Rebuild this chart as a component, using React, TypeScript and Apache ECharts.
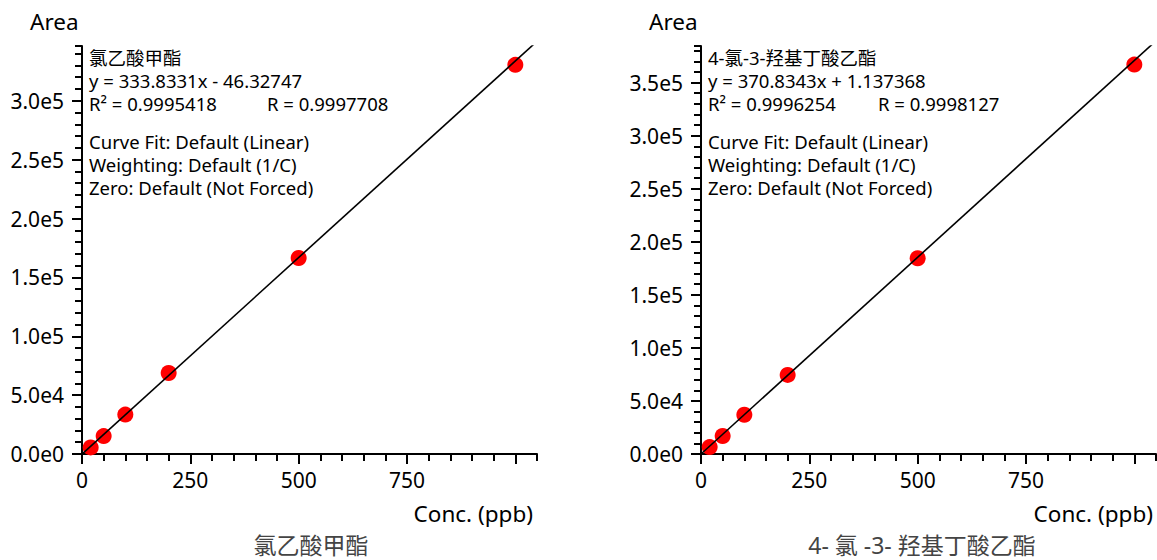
import React, { useEffect, useRef } from "react";
import * as echarts from "echarts";

// ---- data ----
const concentrations = [20, 50, 100, 200, 500, 1000];
const areasA = [5600, 15200, 33500, 68800, 166500, 330500];
const areasB = [6500, 17000, 37000, 74500, 184500, 367000];

const fitA = { slope: 333.8331, intercept: -46.32747 };
const fitB = { slope: 370.8343, intercept: 1.137368 };

const xMajorTicks = [0, 250, 500, 750, 1000];
const xLabelTicks = [0, 250, 500, 750];
const yMajorTicksA = [0, 50000, 100000, 150000, 200000, 250000, 300000];
const yMajorTicksB = [0, 50000, 100000, 150000, 200000, 250000, 300000, 350000];

const xMax = 1050;
const yMaxA = 346500;
const yMaxB = 384500;

const textA = [
  "氯乙酸甲酯",
  "y = 333.8331x - 46.32747",
  "R² = 0.9995418",
  "R = 0.9997708",
  "Curve Fit: Default (Linear)",
  "Weighting: Default (1/C)",
  "Zero: Default (Not Forced)",
];
const textB = [
  "4-氯-3-羟基丁酸乙酯",
  "y = 370.8343x + 1.137368",
  "R² = 0.9996254",
  "R = 0.9998127",
  "Curve Fit: Default (Linear)",
  "Weighting: Default (1/C)",
  "Zero: Default (Not Forced)",
];
const subtitleA = "氯乙酸甲酯";
const subtitleB = "4- 氯 -3- 羟基丁酸乙酯";
const yName = "Area";
const xName = "Conc. (ppb)";

const FONT = "'Noto Sans', 'Noto Sans CJK SC', sans-serif";

const fmtSci = (v: number) => {
  if (v === 0) return "0.0e0";
  const e = Math.floor(Math.log10(v) + 1e-9);
  const m = v / Math.pow(10, e);
  return m.toFixed(1) + "e" + e;
};

const lineStyle = { color: "#000", width: 2 };

function xAxes(gridIndex: number) {
  return [
    {
      type: "value",
      gridIndex,
      position: "bottom",
      min: 0,
      max: xMax,
      interval: 250,
      axisLine: { show: true, onZero: false, lineStyle },
      axisTick: { show: true, length: 10, lineStyle, customValues: xMajorTicks },
      axisLabel: {
        show: true,
        customValues: xLabelTicks,
        color: "#000",
        fontSize: 21,
        fontFamily: FONT,
        margin: 15,
      },
      splitLine: { show: false },
    },
    {
      type: "value",
      gridIndex,
      position: "bottom",
      min: 0,
      max: xMax,
      interval: 50,
      axisLine: { show: false, onZero: false },
      axisTick: { show: true, length: 7, lineStyle },
      axisLabel: { show: false },
      splitLine: { show: false },
    },
  ];
}

function yAxes(gridIndex: number, yMax: number, majors: number[]) {
  return [
    {
      type: "value",
      gridIndex,
      min: 0,
      max: yMax,
      interval: 50000,
      position: "left",
      axisLine: { show: true, onZero: false, lineStyle },
      axisTick: { show: true, length: 10, lineStyle, customValues: majors },
      axisLabel: {
        show: true,
        customValues: majors,
        formatter: (v: number) => fmtSci(v),
        color: "#000",
        fontSize: 21,
        fontFamily: FONT,
        margin: 18,
      },
      splitLine: { show: false },
    },
    {
      type: "value",
      gridIndex,
      min: 0,
      max: yMax,
      interval: 10000,
      position: "left",
      axisLine: { show: false, onZero: false },
      axisTick: { show: true, length: 7, lineStyle },
      axisLabel: { show: false },
      splitLine: { show: false },
    },
  ];
}

function textBlock(lines: string[], x: number, rX: number) {
  const ys = [57, 80, 103, 103, 141, 164, 187];
  return lines.map((t, i) => ({
    type: "text",
    x: i === 3 ? rX : x,
    y: ys[i],
    style: {
      text: t,
      fill: "#000",
      fontSize: 18.5,
      fontFamily: FONT,
      textAlign: "left",
      textVerticalAlign: "middle",
    },
  }));
}

function label(text: string, x: number, y: number, size: number, align: string, color = "#000") {
  return {
    type: "text",
    x,
    y,
    style: {
      text,
      fill: color,
      fontSize: size,
      fontFamily: FONT,
      textAlign: align,
      textVerticalAlign: "middle",
    },
  };
}

export default function App() {
  const ref = useRef<HTMLDivElement>(null);
  useEffect(() => {
    if (!ref.current) return;
    const chart = echarts.init(ref.current, undefined, { renderer: "svg" });
    const scatterA = concentrations.map((c, i) => [c, areasA[i]]);
    const scatterB = concentrations.map((c, i) => [c, areasB[i]]);
    const lineA = [
      [0, fitA.intercept],
      [xMax, fitA.slope * xMax + fitA.intercept],
    ];
    const lineB = [
      [0, fitB.intercept],
      [xMax, fitB.slope * xMax + fitB.intercept],
    ];
    chart.setOption({
      animation: false,
      backgroundColor: "#fff",
      grid: [
        { left: 82, top: 46, width: 455, height: 408 },
        { left: 701, top: 46, width: 455, height: 408 },
      ],
      xAxis: [...xAxes(0), ...xAxes(1)],
      yAxis: [...yAxes(0, yMaxA, yMajorTicksA), ...yAxes(1, yMaxB, yMajorTicksB)],
      series: [
        {
          type: "scatter",
          xAxisIndex: 0,
          yAxisIndex: 0,
          data: scatterA,
          symbol: "circle",
          symbolSize: 16,
          itemStyle: { color: "#ff0000", opacity: 1 },
          z: 2,
        },
        {
          type: "line",
          xAxisIndex: 0,
          yAxisIndex: 0,
          data: lineA,
          showSymbol: false,
          symbol: "none",
          clip: true,
          lineStyle: { color: "#000", width: 1.6 },
          z: 3,
        },
        {
          type: "scatter",
          xAxisIndex: 2,
          yAxisIndex: 2,
          data: scatterB,
          symbol: "circle",
          symbolSize: 16,
          itemStyle: { color: "#ff0000", opacity: 1 },
          z: 2,
        },
        {
          type: "line",
          xAxisIndex: 2,
          yAxisIndex: 2,
          data: lineB,
          showSymbol: false,
          symbol: "none",
          clip: true,
          lineStyle: { color: "#000", width: 1.6 },
          z: 3,
        },
      ],
      graphic: [
        label(yName, 30, 21, 22.5, "left"),
        label(yName, 649, 21, 22.5, "left"),
        label(xName, 533, 513, 22.5, "right"),
        label(xName, 1153, 513, 22.5, "right"),
        label(subtitleA, 311, 545, 23, "center", "#444"),
        label(subtitleB, 922, 545, 23, "center", "#444"),
        ...textBlock(textA, 89, 267),
        ...textBlock(textB, 708, 878),
      ],
    });
    return () => chart.dispose();
  }, []);
  return (
    <div
      ref={ref}
      style={{ position: "fixed", left: 0, top: 0, width: 1157, height: 560, background: "#fff" }}
    />
  );
}
